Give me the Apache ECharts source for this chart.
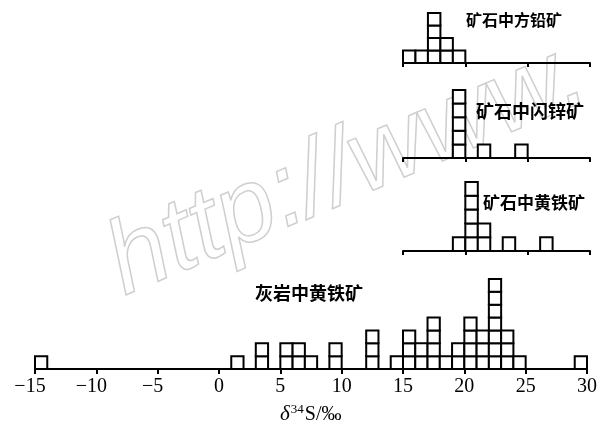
<!DOCTYPE html>
<html>
<head>
<meta charset="utf-8">
<script src="https://cdn.jsdelivr.net/npm/echarts@6/dist/echarts.min.js"></script>
<style>html,body{margin:0;padding:0;background:#fff;}#c{width:600px;height:425px;}</style>
</head>
<body>
<div id="c"></div>
<script>
// δ34S values (bin centres, ‰) and number of samples per 1‰ bin
const limestonePyriteBins   = [-14.5, 1.5, 3.5, 5.5, 6.5, 7.5, 9.5, 12.5, 14.5, 15.5, 16.5, 17.5, 18.5, 19.5, 20.5, 21.5, 22.5, 23.5, 24.5, 29.5];
const limestonePyriteCounts = [1, 1, 2, 2, 2, 1, 2, 3, 1, 3, 2, 4, 1, 2, 4, 3, 7, 3, 1, 1];
const galenaBins   = [15.5, 16.5, 17.5, 18.5, 19.5];
const galenaCounts = [1, 1, 4, 2, 1];
const sphaleriteBins   = [19.5, 21.5, 24.5];
const sphaleriteCounts = [5, 1, 1];
const orePyriteBins   = [19.5, 20.5, 21.5, 23.5, 26.5];
const orePyriteCounts = [1, 5, 2, 1, 1];

const panelLabels = ['矿石中方铅矿', '矿石中闪锌矿', '矿石中黄铁矿', '灰岩中黄铁矿'];
const mainTicks = { min: -15, max: 30, interval: 5 };
const panelTicks = { min: 15, max: 30, interval: 5 };

function expand(bins, counts) {
  const out = [];
  bins.forEach((b, i) => { for (let k = 0; k < counts[i]; k++) out.push([b, k]); });
  return out;
}
function renderBox(params, api) {
  const x = api.value(0), lvl = api.value(1);
  const p0 = api.coord([x - 0.5, lvl]);
  const p1 = api.coord([x + 0.5, lvl + 1]);
  return {
    type: 'rect',
    shape: { x: p0[0], y: p1[1], width: p1[0] - p0[0], height: p0[1] - p1[1] },
    style: { fill: '#fff', stroke: '#000', lineWidth: 2 }
  };
}
const axisLineStyle = { show: true, lineStyle: { color: '#000', width: 2 } };
function panelX(idx) {
  return {
    type: 'value', gridIndex: idx, min: panelTicks.min, max: panelTicks.max, interval: panelTicks.interval,
    axisLine: axisLineStyle, axisTick: { show: true, inside: false, length: 4, lineStyle: { color: '#000', width: 2 } },
    axisLabel: { show: false }, splitLine: { show: false }
  };
}
function hiddenY(idx, max) {
  return { type: 'value', gridIndex: idx, min: 0, max: max, show: false, splitLine: { show: false } };
}
const chart = echarts.init(document.getElementById('c'), null, { renderer: 'canvas' });
chart.setOption({
  backgroundColor: '#fff',
  animation: false,
  grid: [
    { left: 35, right: 11, top: 279, bottom: 56 },
    { left: 403, right: 10, top: 13, bottom: 362 },
    { left: 403, right: 10, top: 90, bottom: 267 },
    { left: 403, right: 10, top: 182, bottom: 174 }
  ],
  xAxis: [
    {
      type: 'value', gridIndex: 0, min: mainTicks.min, max: mainTicks.max, interval: mainTicks.interval,
      axisLine: axisLineStyle,
      axisTick: { show: true, inside: false, length: 5, lineStyle: { color: '#000', width: 2 } },
      splitLine: { show: false },
      axisLabel: {
        margin: 8, color: '#000', fontFamily: 'Liberation Serif', fontSize: 20,
        formatter: v => v < 0 ? '−' + Math.abs(v) + '{p|}' : String(v),
        rich: { p: { width: 10 } }
      }
    },
    panelX(1), panelX(2), panelX(3)
  ],
  yAxis: [hiddenY(0, 7), hiddenY(1, 4), hiddenY(2, 5), hiddenY(3, 5)],
  series: [
    { type: 'custom', xAxisIndex: 0, yAxisIndex: 0, renderItem: renderBox, data: expand(limestonePyriteBins, limestonePyriteCounts), z: 3 },
    { type: 'custom', xAxisIndex: 1, yAxisIndex: 1, renderItem: renderBox, data: expand(galenaBins, galenaCounts), z: 3 },
    { type: 'custom', xAxisIndex: 2, yAxisIndex: 2, renderItem: renderBox, data: expand(sphaleriteBins, sphaleriteCounts), z: 3 },
    { type: 'custom', xAxisIndex: 3, yAxisIndex: 3, renderItem: renderBox, data: expand(orePyriteBins, orePyriteCounts), z: 3 }
  ],
  graphic: [
    {
      type: 'text', left: 92, top: 22, rotation: 0.40, z: -10, silent: true,
      style: { text: 'http://www.', font: 'italic 104px "Liberation Sans"', fill: 'rgba(0,0,0,0)', stroke: '#cfcfcf', lineWidth: 1.5 }
    },
    { type: 'text', x: 466, y: 20, style: { text: panelLabels[0], font: 'bold 16px "Noto Sans CJK SC"', fill: '#000', textVerticalAlign: 'middle' } },
    { type: 'text', x: 476, y: 111, style: { text: panelLabels[1], font: 'bold 18px "Noto Sans CJK SC"', fill: '#000', textVerticalAlign: 'middle' } },
    { type: 'text', x: 483, y: 203, style: { text: panelLabels[2], font: 'bold 17px "Noto Sans CJK SC"', fill: '#000', textVerticalAlign: 'middle' } },
    { type: 'text', x: 255, y: 293, style: { text: panelLabels[3], font: 'bold 18px "Noto Sans CJK SC"', fill: '#000', textVerticalAlign: 'middle' } },
    {
      type: 'text', x: 280, y: 414,
      style: {
        text: '{d|δ}{s|34}{t|S/‰}', textVerticalAlign: 'middle',
        rich: {
          d: { fontFamily: 'Liberation Serif', fontStyle: 'italic', fontSize: 21, fill: '#000', verticalAlign: 'bottom' },
          s: { fontFamily: 'Liberation Serif', fontSize: 13, fill: '#000', verticalAlign: 'bottom', padding: [0, 1, 9, 1] },
          t: { fontFamily: 'Liberation Serif', fontSize: 20, fill: '#000', verticalAlign: 'bottom' }
        }
      }
    }
  ]
});
</script>
</body>
</html>
